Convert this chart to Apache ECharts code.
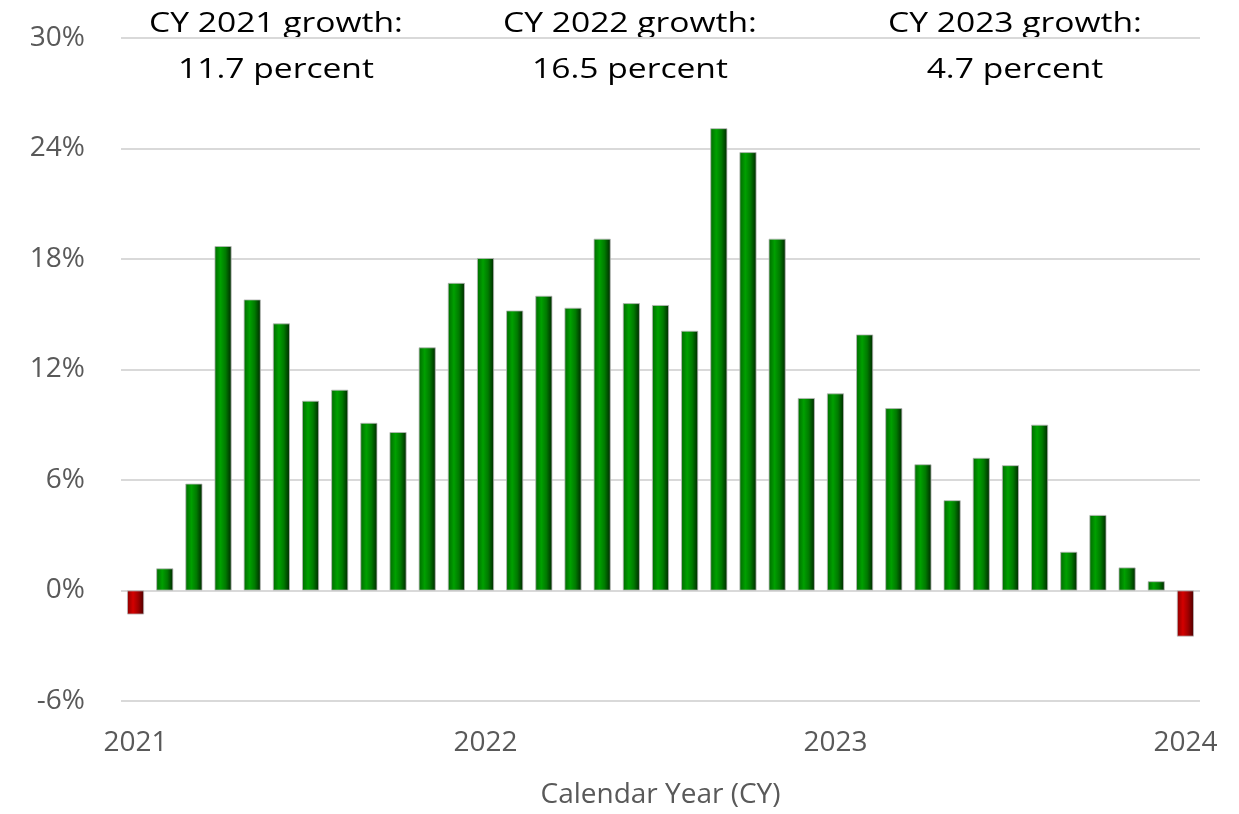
<!DOCTYPE html>
<html>
<head>
    <meta charset="utf-8">
    <title>CY growth</title>
    <script src="https://cdn.jsdelivr.net/npm/echarts@6/dist/echarts.min.js"></script>
    <style>
        html, body { margin: 0; padding: 0; background: #fff; }
    </style>
</head>
<body>
    <div id="main" style="width: 1239px;height:814px;"></div>
    <script type="text/javascript">
        // monthly periods, Jan 2021 .. Jan 2024
        var months = [
            '2021-01','2021-02','2021-03','2021-04','2021-05','2021-06','2021-07','2021-08','2021-09','2021-10','2021-11','2021-12',
            '2022-01','2022-02','2022-03','2022-04','2022-05','2022-06','2022-07','2022-08','2022-09','2022-10','2022-11','2022-12',
            '2023-01','2023-02','2023-03','2023-04','2023-05','2023-06','2023-07','2023-08','2023-09','2023-10','2023-11','2023-12',
            '2024-01'
        ];
        // growth, percent
        var growth = [
            -1.3, 1.2, 5.8, 18.7, 15.8, 14.5, 10.3, 10.9, 9.1, 8.6, 13.2, 16.7,
            18.05, 15.2, 16.0, 15.35, 19.1, 15.6, 15.5, 14.1, 25.1, 23.8, 19.1, 10.45,
            10.7, 13.9, 9.9, 6.85, 4.9, 7.2, 6.8, 9.0, 2.1, 4.1, 1.25, 0.5,
            -2.5
        ];
        var yTicks = [-6, 0, 6, 12, 18, 24, 30];
        var notes = [
            ['CY 2021 growth:', '11.7 percent'],
            ['CY 2022 growth:', '16.5 percent'],
            ['CY 2023 growth:', '4.7 percent']
        ];
        var noteX = [276, 630, 1015];

        var FONT = '"Open Sans"';
        var green = new echarts.graphic.LinearGradient(0, 0, 1, 0, [
            { offset: 0, color: '#006a00' },
            { offset: 0.35, color: '#00a000' },
            { offset: 0.65, color: '#007a00' },
            { offset: 1, color: '#002600' }
        ]);
        var red = new echarts.graphic.LinearGradient(0, 0, 1, 0, [
            { offset: 0, color: '#8a0000' },
            { offset: 0.35, color: '#d40000' },
            { offset: 0.65, color: '#a00000' },
            { offset: 1, color: '#4a0000' }
        ]);

        var graphics = [];
        for (var i = 0; i < notes.length; i++) {
            graphics.push({
                type: 'text', x: noteX[i], y: 1, scaleX: 1.2,
                style: {
                    text: notes[i].join('\n'),
                    align: 'center', verticalAlign: 'top', fill: '#000',
                    fontFamily: 'Open Sans', fontSize: 28, lineHeight: 46
                }
            });
        }

        var myChart = echarts.init(document.getElementById('main'));
        var option = {
            animation: false,
            backgroundColor: '#fff',
            grid: { left: 121, right: 39, top: 38, bottom: 111 },
            graphic: graphics,
            xAxis: {
                type: 'category',
                data: months,
                boundaryGap: true,
                name: 'Calendar Year (CY)',
                nameLocation: 'middle',
                nameGap: 80,
                nameTextStyle: { fontFamily: FONT, fontSize: 28, color: '#595959' },
                axisLine: { show: false, onZero: false },
                axisTick: { show: false },
                axisLabel: {
                    interval: function (idx) { return idx % 12 === 0; },
                    formatter: function (v) { return v.slice(0, 4); },
                    margin: 28,
                    fontFamily: FONT, fontSize: 28, color: '#595959'
                },
                splitLine: { show: false }
            },
            yAxis: {
                type: 'value',
                min: yTicks[0],
                max: yTicks[yTicks.length - 1],
                interval: 6,
                axisLine: { show: false },
                axisTick: { show: false },
                axisLabel: {
                    formatter: '{value}%',
                    margin: 36,
                    fontFamily: FONT, fontSize: 28, color: '#595959'
                },
                splitLine: { lineStyle: { color: '#d9d9d9', width: 2 } }
            },
            series: [{
                type: 'bar',
                data: growth,
                barWidth: 17,
                itemStyle: {
                    color: function (p) { return p.value < 0 ? red : green; },
                    borderColor: '#b8b8b8',
                    borderWidth: 0.8
                }
            }]
        };
        myChart.setOption(option);
    </script>
</body>
</html>
